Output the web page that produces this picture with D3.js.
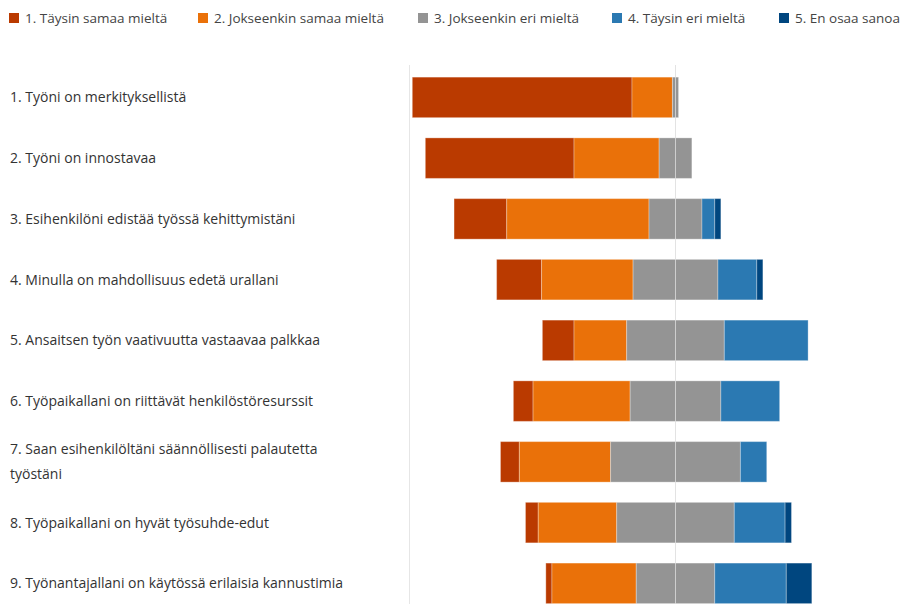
<!DOCTYPE html>
<html>
<head>
<meta charset="utf-8">
<script src="https://cdn.jsdelivr.net/npm/d3@7"></script>
<style>
  html, body { margin: 0; padding: 0; background: #fff; }
  svg { display: block; }
  text { font-family: "Open Sans", "Noto Sans", sans-serif; }
</style>
</head>
<body>
<svg id="chart" width="904" height="604"></svg>
<script>
// Survey statements (rows, top to bottom)
const categories = [
  "1. Työni on merkityksellistä",
  "2. Työni on innostavaa",
  "3. Esihenkilöni edistää työssä kehittymistäni",
  "4. Minulla on mahdollisuus edetä urallani",
  "5. Ansaitsen työn vaativuutta vastaavaa palkkaa",
  "6. Työpaikallani on riittävät henkilöstöresurssit",
  "7. Saan esihenkilöltäni säännöllisesti palautetta työstäni",
  "8. Työpaikallani on hyvät työsuhde-edut",
  "9. Työnantajallani on käytössä erilaisia kannustimia"
];

// Response option names (legend order)
const seriesNames = [
  "1. Täysin samaa mieltä",
  "2. Jokseenkin samaa mieltä",
  "3. Jokseenkin eri mieltä",
  "4. Täysin eri mieltä",
  "5. En osaa sanoa"
];

// Share of answers per statement, %
const taysinSamaa     = [82.6, 55.9, 19.8, 16.9, 11.9,  7.4,  7.1,  4.8,  2.3];
const jokseenkinSamaa = [15.2, 32.0, 53.5, 34.4, 19.8, 36.5, 34.3, 29.5, 31.7];
const jokseenkinEri   = [ 2.3, 12.3, 19.9, 31.9, 36.7, 34.1, 48.8, 44.2, 29.5];
const taysinEri       = [ 0.0,  0.0,  4.8, 14.6, 31.5, 22.1,  9.9, 19.1, 26.9];
const enOsaaSanoa     = [ 0.0,  0.0,  2.3,  2.3,  0.0,  0.0,  0.0,  2.4,  9.6];

// Grid positions on the diverging axis, %
const gridTicks = [-100, 0, 100];

const seriesValues = [taysinSamaa, jokseenkinSamaa, jokseenkinEri, taysinEri, enOsaaSanoa];
const colors = ["#BA3A00", "#EA7109", "#949494", "#2B79B2", "#00467F"];

const svg = d3.select("#chart");

const x = d3.scaleLinear().domain([-100, 100]).range([409.5, 941.5]);
const y = d3.scaleBand().domain(categories)
  .range([67, 67 + 9 * 60.75])
  .paddingInner(0.333).paddingOuter(0.167);

// Build segments: neutral (option 3) is split around zero
const rows = categories.map((c, i) => {
  const vals = seriesValues.map(s => s[i]);
  let start = -(vals[0] + vals[1] + vals[2] / 2);
  const segs = vals.map((v, k) => {
    const s = { cat: c, k, x0: start, x1: start + v, v };
    start += v;
    return s;
  });
  return segs;
});

// Light grid behind bars
const gridTop = 65;
svg.append("g").selectAll("line").data(gridTicks).join("line")
  .attr("x1", d => x(d)).attr("x2", d => x(d))
  .attr("y1", gridTop).attr("y2", 604)
  .attr("stroke", "#e6e6e6").attr("stroke-width", 1);

// Bars
svg.append("g").selectAll("g").data(rows).join("g")
  .selectAll("rect").data(d => d.filter(s => s.v > 0)).join("rect")
  .attr("x", d => x(d.x0))
  .attr("width", d => x(d.x1) - x(d.x0))
  .attr("y", d => y(d.cat))
  .attr("height", y.bandwidth())
  .attr("fill", d => colors[d.k])
  .attr("stroke", "#fff").attr("stroke-opacity", 0.3).attr("stroke-width", 1);

// Zero line drawn over the bars
svg.append("line")
  .attr("x1", x(0)).attr("x2", x(0))
  .attr("y1", gridTop).attr("y2", 604)
  .attr("stroke", "#e2e2e2").attr("stroke-opacity", 0.75).attr("stroke-width", 1);

// Category labels, wrapped to the label column
const labelWidth = 345;
const labels = svg.append("g").selectAll("text").data(categories).join("text")
  .attr("x", 10)
  .attr("font-size", 14)
  .attr("fill", "#333");

labels.each(function(d) {
  const t = d3.select(this);
  const words = d.split(" ");
  const lines = [];
  let line = [];
  const probe = t.append("tspan");
  words.forEach(w => {
    line.push(w);
    probe.text(line.join(" "));
    if (probe.node().getComputedTextLength() > labelWidth && line.length > 1) {
      line.pop();
      lines.push(line.join(" "));
      line = [w];
    }
  });
  lines.push(line.join(" "));
  probe.remove();
  const lh = 25;
  const cy = y(d) + y.bandwidth() / 2;
  const first = cy - (lines.length - 1) * lh / 2;
  lines.forEach((ln, i) => {
    t.append("tspan").attr("x", 10).attr("y", first + i * lh)
      .attr("dy", "0.35em").text(ln);
  });
});

// Legend: swatch + label, one item per response option
const legendX = [9, 198, 418, 612, 779];
const legend = svg.append("g");
seriesNames.forEach((name, i) => {
  legend.append("rect")
    .attr("x", legendX[i]).attr("y", 13).attr("width", 10).attr("height", 10)
    .attr("fill", colors[i]);
  legend.append("text")
    .attr("x", legendX[i] + 16).attr("y", 18).attr("dy", "0.35em")
    .attr("font-size", 13.5).attr("fill", "#444")
    .text(name);
});
</script>
</body>
</html>
